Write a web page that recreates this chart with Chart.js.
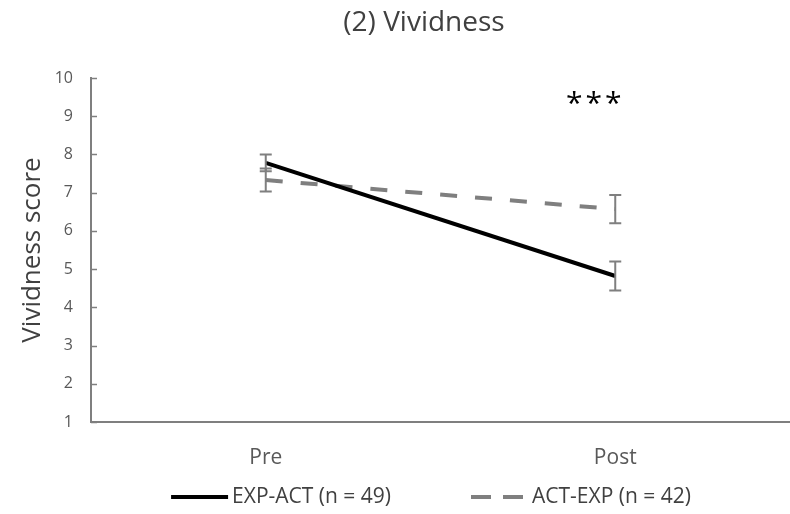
<!DOCTYPE html>
<html>
<head>
<meta charset="utf-8">
<script src="https://cdn.jsdelivr.net/npm/chart.js@4"></script>
<style>
  html, body { margin: 0; padding: 0; background: #fff; }
  #myChart { display: block; }
</style>
</head>
<body>
<canvas id="myChart" width="790" height="514"></canvas>
<script>
// data
const phases = ["Pre", "Post"];
const expActMeans = [7.78, 4.82];
const expActErrors = [0.22, 0.38];
const actExpMeans = [7.33, 6.57];
const actExpErrors = [0.3, 0.37];
const yTicks = [1, 2, 3, 4, 5, 6, 7, 8, 9, 10];
const chartTitle = "(2) Vividness";
const significance = "***";

const grey = "#7f7f7f";
const textGrey = "#595959";
const fontFamily = "'Open Sans', 'Liberation Sans', sans-serif";

// title, error bars, inner y tick marks, stars and the legend
const extras = {
  id: "extras",
  afterDatasetsDraw(chart) {
    const ctx = chart.ctx;
    const yScale = chart.scales.y;
    const xScale = chart.scales.x;
    const errs = [expActErrors, actExpErrors];

    ctx.save();
    ctx.strokeStyle = grey;
    ctx.lineWidth = 2;
    ctx.setLineDash([]);
    chart.data.datasets.forEach((ds, di) => {
      const meta = chart.getDatasetMeta(di);
      meta.data.forEach((pt, i) => {
        const v = ds.data[i];
        const top = yScale.getPixelForValue(v + errs[di][i]);
        const bot = yScale.getPixelForValue(v - errs[di][i]);
        ctx.beginPath();
        ctx.moveTo(pt.x, top);
        ctx.lineTo(pt.x, bot);
        ctx.moveTo(pt.x - 6, top);
        ctx.lineTo(pt.x + 6, top);
        ctx.moveTo(pt.x - 6, bot);
        ctx.lineTo(pt.x + 6, bot);
        ctx.stroke();
      });
    });

    // small tick marks on the inside of the y axis
    ctx.lineWidth = 1.5;
    yScale.ticks.forEach((t, i) => {
      const y = Math.round(yScale.getPixelForTick(i)) + 0.5;
      ctx.beginPath();
      ctx.moveTo(chart.chartArea.left, y);
      ctx.lineTo(chart.chartArea.left + 6, y);
      ctx.stroke();
    });

    ctx.textAlign = "center";
    ctx.textBaseline = "middle";

    // significance
    ctx.fillStyle = "#000";
    ctx.font = "30px " + fontFamily;
    ctx.letterSpacing = "3px";
    ctx.fillText(significance, xScale.getPixelForValue(1) - 20, yScale.getPixelForValue(9.3));
    ctx.letterSpacing = "0px";

    // title
    ctx.fillStyle = "#404040";
    ctx.font = "28px " + fontFamily;
    ctx.fillText(chartTitle, 424, 23);

    // legend
    ctx.font = "21px " + fontFamily;
    ctx.textAlign = "left";
    const lineLens = [57, 52];
    const gaps = [4, 9];
    const itemGap = 80;
    const widths = chart.data.datasets.map((ds, i) =>
      lineLens[i] + gaps[i] + ctx.measureText(ds.label).width);
    const total = widths.reduce((a, b) => a + b, 0) + itemGap * (widths.length - 1);
    let x = 431 - total / 2;
    const ly = 497;
    chart.data.datasets.forEach((ds, i) => {
      ctx.strokeStyle = ds.borderColor;
      ctx.lineWidth = 4;
      ctx.setLineDash(ds.borderDash ? [20, 12] : []);
      ctx.beginPath();
      ctx.moveTo(x, ly);
      ctx.lineTo(x + lineLens[i], ly);
      ctx.stroke();
      ctx.setLineDash([]);
      ctx.fillStyle = "#404040";
      ctx.fillText(ds.label, x + lineLens[i] + gaps[i], ly);
      x += widths[i] + itemGap;
    });
    ctx.restore();
  }
};

const ctx = document.getElementById("myChart").getContext("2d");

const myChart = new Chart(ctx, {
  type: "line",
  data: {
    labels: phases,
    datasets: [
      {
        label: "EXP-ACT (n = 49)",
        data: expActMeans,
        borderColor: "#000",
        backgroundColor: "#000",
        borderWidth: 4,
        pointRadius: 0,
        fill: false,
      },
      {
        label: "ACT-EXP (n = 42)",
        data: actExpMeans,
        borderColor: grey,
        backgroundColor: grey,
        borderWidth: 4,
        borderDash: [17, 18],
        pointRadius: 0,
        fill: false,
      },
    ],
  },
  options: {
    responsive: false,
    animation: false,
    layout: { padding: { left: 0, right: 0, top: 78, bottom: 0 } },
    scales: {
      x: {
        offset: true,
        grid: { display: false, drawTicks: false },
        border: { display: true, color: grey, width: 2 },
        ticks: { color: textGrey, font: { family: fontFamily, size: 21 }, padding: 23 },
        afterFit: (s) => { s.height = 92; },
      },
      y: {
        min: 1,
        max: 10,
        afterBuildTicks: (s) => { s.ticks = yTicks.map(v => ({ value: v })); },
        grid: { display: false, drawTicks: false },
        border: { display: true, color: grey, width: 2 },
        ticks: { color: textGrey, font: { family: fontFamily, size: 16 }, padding: 18 },
        title: {
          display: true,
          text: "Vividness score",
          color: "#404040",
          font: { family: fontFamily, size: 26 },
          padding: { top: 17, bottom: 0 },
        },
        afterFit: (s) => { s.width = 91; },
      },
    },
    plugins: {
      title: { display: false },
      legend: { display: false },
      tooltip: { enabled: false },
    },
  },
  plugins: [extras],
});
</script>
</body>
</html>
